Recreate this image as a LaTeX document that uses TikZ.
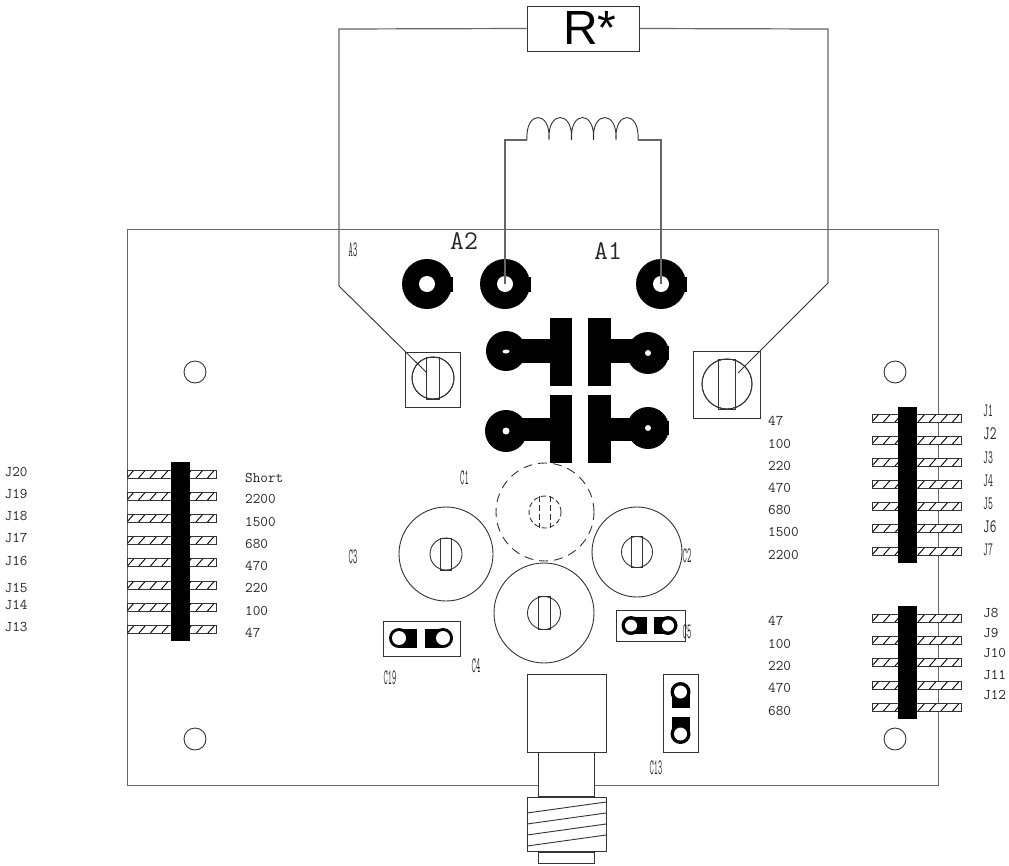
\documentclass[tikz,border=0pt]{standalone}
\usepackage{fontspec}
\usepackage{graphicx}
\setmainfont{Liberation Sans}
\definecolor{ln}{gray}{0.2}
\newcommand{\strip}[3]{% x0, x1, ytop
  \begin{scope}
    \path[clip] (#1,#3) rectangle (#2,#3+8);
    \fill[white] (#1,#3) rectangle (#2,#3+8);
    \foreach \k in {0,...,8}{\draw[black,line width=0.9pt] (#1+\k*11.5,#3+8) -- (#1+\k*11.5+7,#3);}
  \end{scope}
  \draw[ln,line width=1pt] (#1,#3) rectangle (#2,#3+8);}
\newcommand{\ringpad}[2]{% name, position
  \coordinate (#1) at (#2);
  \fill[black] (#1) circle (25pt);
  \fill[black] ($(#1)+(23,-7.5)$) rectangle ($(#1)+(25.6,7.5)$);
  \fill[white] (#1) circle (8pt);}
\newcommand{\pot}[7]{% name, cx, cy, R, r, slot half width, slot half height
  \coordinate (#1) at (#2,#3);
  \draw[potline] (#1) circle (#4pt);
  \draw[potline] (#1) circle (#5pt);
  \draw[potline] ($(#1)+(-#6,-#7)$) rectangle ($(#1)+(#6,#7)$);}
\tikzset{
  x=1pt,y=-1pt,
  potline/.style={ln,line width=0.9pt},
  wire/.style={draw=black!60,line width=1.2pt},
  boxline/.style={draw=ln,line width=1pt},
  valtxt/.style={font=\ttfamily\fontsize{14.8}{15}\selectfont,text=black!85,inner sep=0pt,anchor=west,yshift=-0.7pt},
  bigtxt/.style={font=\ttfamily\fontsize{27}{28}\selectfont,text=black!85,inner sep=0pt},
  narrow/.style={font=\ttfamily\fontsize{22}{23}\selectfont,text=black!85,inner sep=0pt},
  narrowj/.style={font=\ttfamily\fontsize{19}{20}\selectfont,text=black!85,inner sep=0pt,anchor=west},
}
\newcommand{\nar}[2]{\scalebox{#1}[1]{#2}}
\usetikzlibrary{calc}
\begin{document}
\begin{tikzpicture}
\useasboundingbox (0,0) rectangle (1009,865);
\fill[white] (0,0) rectangle (1009,865);
% board
\draw[boxline,draw=black!60] (127,229) rectangle (938,785);
% mounting holes
\foreach \n/\a/\b in {ha/195/372,hb/895/372,hc/195/739,hd/895/739}{\draw[potline] (\a,\b) circle (11pt);}
% ring pads
\ringpad{pa}{427,284}
\ringpad{pb}{505,284}
\ringpad{pc}{661,284}
% capacitor plates
\foreach \yt/\sa/\sb/\la/\lb/\ra/\rb in {318/339/363/351/20/353/21,395/418/441/431/21/428/21}{
  \fill[black] (549.5,\yt) rectangle (572,\yt+67.5);
  \fill[black] (588,\yt) rectangle (611,\yt+67.5);
  \fill[black] (510,\sa) rectangle (549.5,\sb);
  \fill[black] (611,\sa) rectangle (645,\sb);
  \fill[black] (506,\la) circle (\lb pt);
  \fill[black] (648,\ra) circle (\rb pt);
  \fill[black] (666,\ra-7) rectangle (669.3,\ra+7);
}
\fill[white] (506,351.5) ellipse (3.5pt and 2pt);
\fill[white] (648,353) circle (3pt);
\fill[white] (506,431) circle (3.5pt);
\fill[white] (648,428) circle (3pt);
% trimmers
\node[draw=ln,line width=1pt,minimum width=55pt,minimum height=55pt,inner sep=0pt] (boxa) at (432.5,379.5) {};
\node[draw=ln,line width=1pt,minimum width=67pt,minimum height=67pt,inner sep=0pt] (boxb) at (727,384.5) {};
\pot{tl}{433}{378}{21}{21}{6.8}{21}
\pot{tr}{727}{384}{25}{25}{8.7}{25}
\pot{cc}{446}{554}{47}{16}{5.5}{16}
\pot{cb}{637}{552}{45}{15.5}{5.5}{15.5}
\pot{cd}{544}{613}{50}{16.5}{6}{16.5}
% dashed C1
\coordinate (ca) at (545,512);
\draw[potline,dash pattern=on 9pt off 6pt] (ca) circle (49pt);
\draw[potline,dash pattern=on 5pt off 3pt] (ca) circle (16pt);
\draw[potline,dash pattern=on 6pt off 3pt] ($(ca)+(-6,-16)$) -- ($(ca)+(-6,16)$);
\draw[potline,dash pattern=on 6pt off 3pt] ($(ca)+(5,-16)$) -- ($(ca)+(5,16)$);
% small capacitors
\node[draw=ln,line width=1pt,minimum width=77.5pt,minimum height=35pt,inner sep=0pt] (bc19) at (421.75,638.5) {};
\fill[black] (399,638) circle (10pt); \fill[black] (399,628.5) rectangle (417,647.5);
\fill[black] (443,638) circle (10pt); \fill[black] (425,628.5) rectangle (443,647.5);
\fill[white] (399,638) circle (7pt); \fill[white] (443,638) circle (7pt);
\node[draw=ln,line width=1pt,minimum width=69pt,minimum height=31pt,inner sep=0pt] (bc5) at (650.5,625.5) {};
\fill[black] (631,625.5) circle (9.5pt); \fill[black] (631,617) rectangle (647,634);
\fill[black] (668,625.5) circle (9.5pt); \fill[black] (654,617) rectangle (668,634);
\fill[white] (631,625.5) circle (6pt); \fill[white] (668,625.5) circle (6pt);
\node[draw=ln,line width=1pt,minimum width=35pt,minimum height=78pt,inner sep=0pt] (bc13) at (680.5,713) {};
\fill[black] (680.5,692) circle (10pt); \fill[black] (672,692) rectangle (690,708);
\fill[black] (680.5,734) circle (10pt); \fill[black] (672,717) rectangle (690,734);
\fill[white] (680.5,692) circle (6.5pt); \fill[white] (680.5,734) circle (6.5pt);
% coaxial connector
\node[draw=ln,line width=1pt,fill=white,minimum width=56pt,minimum height=44pt,inner sep=0pt] (neck) at (566,774) {};
\node[draw=ln,line width=1pt,fill=white,minimum width=79pt,minimum height=78pt,inner sep=0pt] (conn) at (566.5,713) {};
\node[draw=ln,line width=1pt,fill=white,minimum width=56pt,minimum height=11pt,inner sep=0pt] (tail) at (566,857.5) {};
\node[draw=ln,line width=1pt,fill=white,minimum width=79pt,minimum height=54pt,inner sep=0pt] (thr) at (566.5,824) {};
\foreach \ya/\yb in {813/802,824/813,835/824,846/835}{\draw[potline] (527,\ya) -- (606,\yb);}
% R and wires
\node[draw=ln,line width=1pt,minimum width=112pt,minimum height=45pt,inner sep=0pt] (rbox) at (583,28.5) {};
\node[font=\fontsize{48}{48}\selectfont,text=black,inner sep=0pt] (rtxt) at (590,28) {R*};
\coordinate (rl) at (339,29); \coordinate (rld) at (339,286);
\coordinate (rr) at (828,29); \coordinate (rrd) at (828,283);
\coordinate (tlw) at (427,373); \coordinate (trw) at (738,373);
\draw[wire] (rbox.west) -- (rl) -- (rld);
\draw[wire] (rbox.east) -- (rr) -- (rrd);
\draw[potline] (rld) -- (tlw);
\draw[potline] (rrd) -- (trw);
% inductor
\coordinate (ls) at (527,140); \coordinate (le) at (638,140);
\draw[wire] (pb) -- (505,140) -- (ls);
\draw[wire] (pc) -- (661,140) -- (le);
\draw[potline] (ls) .. controls (525,110) and (551,110) .. (549,140)
  .. controls (547,110) and (573.5,110) .. (571.5,140)
  .. controls (569.5,110) and (595.5,110) .. (593.5,140)
  .. controls (591.5,110) and (618,110) .. (616,140)
  .. controls (614,110) and (640,110) .. (le);
% headers
\foreach \y in {470,492,514,536,558.5,581,603,625.5}{\strip{127}{216}{\y}}
\foreach \y in {414,436,458,480,502,524.5,547}{\strip{872}{961}{\y}}
\foreach \y in {614,636,658,681,703}{\strip{872}{961}{\y}}
\fill[black] (171,462) rectangle (190,641);
\fill[black] (898,407) rectangle (917,563);
\fill[black] (898,606) rectangle (917,719);
% value labels
\foreach \n/\t/\y in {va/Short/477,vb/2200/498,vc/1500/521,vd/680/543,ve/470/565,vf/220/587,vg/100/610,vh/47/632}{\node[valtxt] (\n) at (245,\y) {\t};}
\foreach \n/\t/\y in {ua/47/420,ub/100/443,uc/220/465,ud/470/487,ue/680/509,uf/1500/531,ug/2200/554,uh/47/620,ui/100/643,uj/220/665,uk/470/687,ul/680/710}{\node[valtxt] (\n) at (768,\y) {\t};}
\foreach \t/\y in {J20/471,J19/493,J18/515,J17/537,J16/560,J15/587,J14/604,J13/626}{\node[valtxt] (l\t) at (4.5,\y) {\t};}
\foreach \t/\y in {J8/612,J9/632,J10/652,J11/674,J12/694}{\node[valtxt] (l\t) at (983,\y) {\t};}
% right J labels
\foreach \t/\y/\s in {J1/411/0.5,J2/434/0.68,J3/458/0.5,J4/481/0.5,J5/504/0.5,J6/527/0.68,J7/550/0.5}{\node[narrowj] (l\t) at (983,\y) {\nar{\s}{\t}};}
\node[bigtxt] (ta2) at (464,241) {A2};
\node[bigtxt] (ta1) at (608,251) {A1};
\node[narrow] (ta3) at (353,250) {\nar{0.38}{A3}};
\node[narrow] (tc1) at (464.5,478) {\nar{0.38}{C1}};
\node[narrow] (tc3) at (353,557) {\nar{0.38}{C3}};
\node[narrow] (tc2) at (687,556) {\nar{0.38}{C2}};
\node[narrow] (tc5) at (687,632) {\nar{0.38}{C5}};
\node[narrow] (tc4) at (476,666) {\nar{0.38}{C4}};
\node[narrow] (tc19) at (390,678) {\nar{0.37}{C19}};
\node[narrow] (tc13) at (656,768) {\nar{0.37}{C13}};
\end{tikzpicture}
\end{document}
